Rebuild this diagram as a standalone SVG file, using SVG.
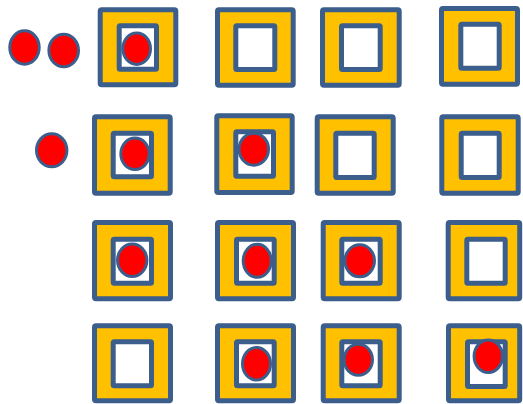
<svg xmlns="http://www.w3.org/2000/svg" width="523" height="404" viewBox="0 0 523 404">
<style>
.o{fill:#FFC000;stroke:#3B5E8C;stroke-width:5;stroke-linejoin:round}
.i{fill:#FFFFFF;stroke:#3B5E8C;stroke-width:5;stroke-linejoin:round}
.c{fill:#FF0000;stroke:#3B5E8C;stroke-width:3}
</style>
<rect width="523" height="404" fill="#FFFFFF"/>
<g id="r1c1"><rect class="o" x="100.2" y="9.8" width="75.6" height="75" rx="1.5"/><rect class="i" x="119.2" y="25.8" width="37.3" height="43.4" rx="1"/></g>
<g id="r1c2"><rect class="o" x="217.5" y="9.8" width="75.7" height="75.4" rx="1.5"/><rect class="i" x="235.8" y="25.8" width="39" height="43.7" rx="1"/></g>
<g id="r1c3"><rect class="o" x="322.5" y="9.8" width="76.7" height="75.4" rx="1.5"/><rect class="i" x="341.5" y="25.8" width="38.7" height="43.7" rx="1"/></g>
<g id="r1c4"><rect class="o" x="441.5" y="8.5" width="76" height="75.7" rx="1.5"/><rect class="i" x="460.8" y="24.2" width="38.4" height="44" rx="1"/></g>
<g id="r2c1"><rect class="o" x="94.5" y="116.8" width="75.7" height="76.4" rx="1.5"/><rect class="i" x="113.2" y="133.2" width="38.3" height="43.6" rx="1"/></g>
<g id="r2c2"><rect class="o" x="216.8" y="115.8" width="75.4" height="76.7" rx="1.5"/><rect class="i" x="235.8" y="131.8" width="37.7" height="44.4" rx="1"/></g>
<g id="r2c3"><rect class="o" x="317.2" y="116.8" width="76" height="76.4" rx="1.5"/><rect class="i" x="335.8" y="133.2" width="38.4" height="44.3" rx="1"/></g>
<g id="r2c4"><rect class="o" x="441.8" y="116.8" width="76.4" height="76.4" rx="1.5"/><rect class="i" x="461.2" y="133.2" width="38" height="44.3" rx="1"/></g>
<g id="r3c1"><rect class="o" x="94.5" y="222.5" width="76" height="76.3" rx="1.5"/><rect class="i" x="113.2" y="239.2" width="38.3" height="44" rx="1"/></g>
<g id="r3c2"><rect class="o" x="217.5" y="222.5" width="76" height="76.3" rx="1.5"/><rect class="i" x="236.5" y="239.2" width="37.7" height="44" rx="1"/></g>
<g id="r3c3"><rect class="o" x="323.2" y="222.5" width="76" height="76.3" rx="1.5"/><rect class="i" x="341.8" y="239.2" width="38.4" height="44" rx="1"/></g>
<g id="r3c4"><rect class="o" x="448.2" y="222.5" width="71.5" height="76.3" rx="1.5"/><rect class="i" x="466.8" y="239.2" width="38.4" height="44" rx="1"/></g>
<g id="r4c1"><rect class="o" x="94.5" y="325.8" width="76" height="75" rx="1.5"/><rect class="i" x="113.2" y="341.8" width="38.3" height="44" rx="1"/></g>
<g id="r4c2"><rect class="o" x="217.5" y="325.8" width="76" height="75" rx="1.5"/><rect class="i" x="236.5" y="341.8" width="37.7" height="44" rx="1"/></g>
<g id="r4c3"><rect class="o" x="323.2" y="325.8" width="76" height="75" rx="1.5"/><rect class="i" x="341.8" y="341.8" width="38.4" height="44" rx="1"/></g>
<g id="r4c4"><rect class="o" x="448.5" y="325.8" width="71.2" height="75" rx="1.5"/><rect class="i" x="467.5" y="341.8" width="37.7" height="44.7" rx="1"/></g>
<g id="circles">
<ellipse class="c" cx="24.5" cy="47.5" rx="14.7" ry="16.7"/>
<ellipse class="c" cx="63.7" cy="50.5" rx="14.8" ry="16.3"/>
<ellipse class="c" cx="136.7" cy="48.7" rx="13.8" ry="15.7"/>
<ellipse class="c" cx="51.7" cy="150.3" rx="15.2" ry="16.5"/>
<ellipse class="c" cx="135" cy="153.8" rx="14.2" ry="15.7"/>
<ellipse class="c" cx="253.8" cy="149.2" rx="14.7" ry="16"/>
<ellipse class="c" cx="132.2" cy="260.3" rx="14.7" ry="16.2"/>
<ellipse class="c" cx="257.2" cy="260.8" rx="14" ry="16.5"/>
<ellipse class="c" cx="359.7" cy="260.8" rx="14.8" ry="16"/>
<ellipse class="c" cx="256.5" cy="363.8" rx="14" ry="16.3"/>
<ellipse class="c" cx="358.3" cy="359.7" rx="14.2" ry="15.5"/>
<ellipse class="c" cx="488.3" cy="356.2" rx="14.2" ry="16.3"/>
</g>
</svg>
